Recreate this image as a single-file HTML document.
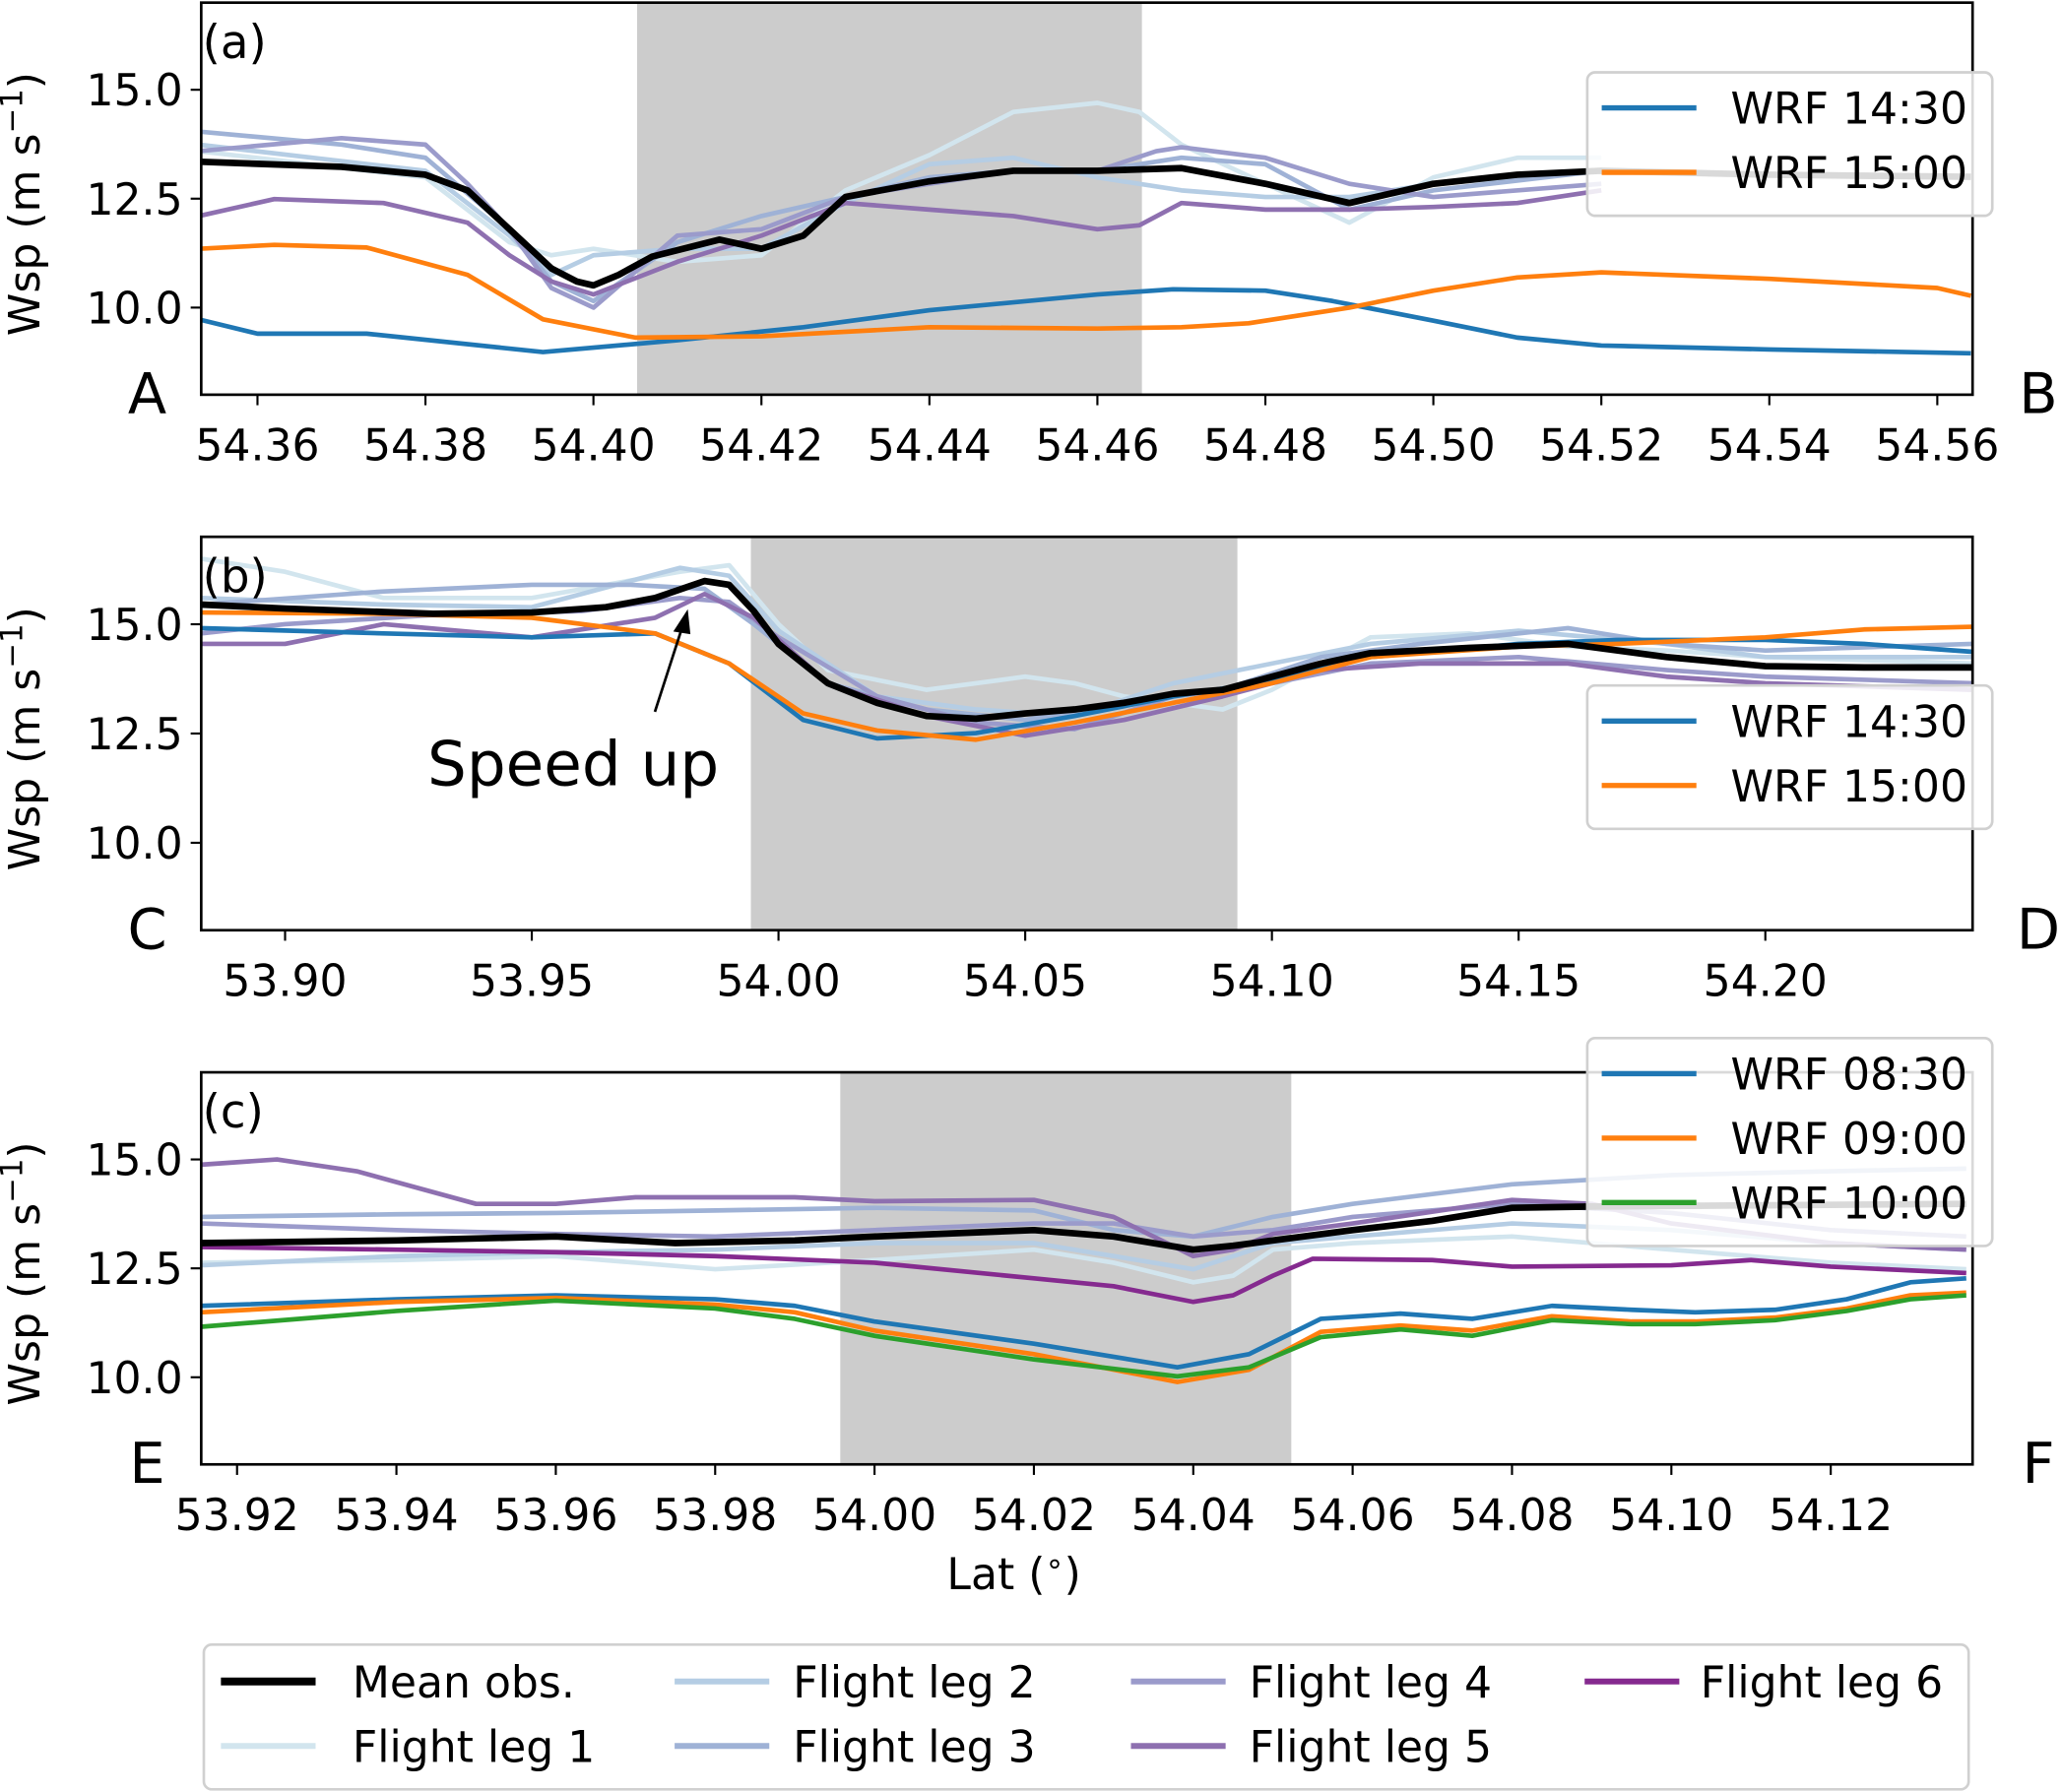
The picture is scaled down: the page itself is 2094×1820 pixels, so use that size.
<!DOCTYPE html>
<html><head><meta charset="utf-8"><title>Wind speed transects</title>
<style>html,body{margin:0;padding:0;background:#fff}svg{display:block;font-family:"DejaVu Sans","Liberation Sans",sans-serif}</style></head>
<body>
<svg id="fig" width="2094" height="1820" viewBox="0 0 1568 1362" preserveAspectRatio="none" xmlns="http://www.w3.org/2000/svg"></svg>
<script>
// ---------- DATA ----------
const yTicks = [10.0, 12.5, 15.0];
const yTickLabels = ["10.0", "12.5", "15.0"];
const aTicks = [54.36,54.38,54.40,54.42,54.44,54.46,54.48,54.50,54.52,54.54,54.56];
const bTicks = [53.90,53.95,54.00,54.05,54.10,54.15,54.20];
const cTicks = [53.92,53.94,53.96,53.98,54.00,54.02,54.04,54.06,54.08,54.10,54.12];
const aShade = [54.4052, 54.4653];
const bShade = [53.9944, 54.0930];
const cShade = [53.9957, 54.0523];

// Panel (a)
const aMeanLat = [54.353,54.37,54.38,54.385,54.39,54.395,54.398,54.40,54.403,54.407,54.415,54.42,54.425,54.43,54.44,54.45,54.46,54.47,54.48,54.49,54.50,54.51,54.52,54.54,54.564];
const aMeanWsp = [13.35,13.23,13.05,12.69,11.80,10.90,10.60,10.51,10.75,11.17,11.56,11.35,11.65,12.54,12.90,13.14,13.14,13.20,12.84,12.40,12.84,13.05,13.14,13.05,13.0];
const aW1Lat = [54.353,54.36,54.373,54.394,54.41,54.425,54.44,54.46,54.469,54.48,54.488,54.50,54.51,54.52,54.54,54.564];
const aW1Wsp = [9.73,9.40,9.40,8.98,9.25,9.55,9.94,10.30,10.42,10.39,10.15,9.70,9.31,9.13,9.04,8.95];
const aW2Lat = [54.353,54.362,54.373,54.385,54.394,54.405,54.42,54.44,54.46,54.47,54.478,54.49,54.50,54.51,54.52,54.54,54.56,54.564];
const aW2Wsp = [11.35,11.44,11.38,10.75,9.73,9.31,9.34,9.55,9.52,9.55,9.64,10.00,10.39,10.69,10.81,10.66,10.45,10.27];
const aL1Lat = [54.353,54.38,54.39,54.395,54.40,54.41,54.42,54.43,54.44,54.45,54.46,54.465,54.47,54.48,54.49,54.50,54.51,54.52];
const aL1Wsp = [13.59,12.99,11.50,11.20,11.35,11.05,11.20,12.69,13.50,14.49,14.70,14.49,13.74,12.84,11.95,12.99,13.44,13.44];
const aL2Lat = [54.353,54.38,54.39,54.395,54.40,54.41,54.42,54.43,54.44,54.45,54.46,54.47,54.48,54.49,54.50,54.52];
const aL2Wsp = [13.74,13.14,11.65,10.75,11.20,11.35,11.35,12.40,13.29,13.44,12.99,12.69,12.54,12.54,12.84,13.14];
const aL3Lat = [54.353,54.37,54.38,54.39,54.395,54.40,54.41,54.42,54.43,54.44,54.45,54.46,54.47,54.48,54.49,54.50,54.52];
const aL3Wsp = [14.04,13.74,13.44,11.80,10.60,10.15,11.50,12.10,12.54,12.99,13.14,13.14,13.44,13.29,12.25,12.69,13.14];
const aL4Lat = [54.353,54.37,54.38,54.385,54.39,54.395,54.40,54.41,54.42,54.43,54.44,54.45,54.46,54.467,54.47,54.48,54.49,54.50,54.52];
const aL4Wsp = [13.59,13.89,13.74,12.84,11.80,10.45,10.00,11.65,11.80,12.54,12.84,13.14,13.14,13.59,13.68,13.44,12.84,12.54,12.84];
const aL5Lat = [54.353,54.362,54.375,54.385,54.39,54.395,54.40,54.41,54.42,54.43,54.44,54.45,54.46,54.465,54.47,54.48,54.49,54.50,54.51,54.52];
const aL5Wsp = [12.10,12.49,12.40,11.95,11.20,10.60,10.30,11.05,11.65,12.40,12.25,12.10,11.80,11.89,12.40,12.25,12.25,12.31,12.40,12.69];

// Panel (b)
const bMeanLat = [53.883,53.90,53.93,53.95,53.965,53.975,53.985,53.99,53.995,54.00,54.01,54.02,54.03,54.04,54.05,54.06,54.07,54.08,54.09,54.10,54.11,54.12,54.14,54.16,54.18,54.20,54.22,54.242];
const bMeanWsp = [15.45,15.36,15.24,15.27,15.39,15.60,15.99,15.90,15.30,14.55,13.65,13.20,12.90,12.84,12.96,13.05,13.20,13.41,13.50,13.80,14.10,14.34,14.46,14.55,14.25,14.04,14.01,14.01];
const bW1Lat = [53.883,53.92,53.95,53.975,53.99,54.005,54.02,54.04,54.06,54.08,54.10,54.12,54.15,54.17,54.20,54.22,54.242];
const bW1Wsp = [14.91,14.79,14.70,14.79,14.10,12.81,12.39,12.51,12.90,13.35,13.71,14.25,14.55,14.64,14.64,14.55,14.37];
const bW2Lat = [53.883,53.92,53.95,53.975,53.99,54.005,54.02,54.04,54.06,54.08,54.10,54.12,54.15,54.17,54.20,54.22,54.242];
const bW2Wsp = [15.27,15.24,15.15,14.79,14.10,12.96,12.57,12.36,12.75,13.20,13.65,14.25,14.49,14.55,14.70,14.88,14.94];
const bL1Lat = [53.883,53.90,53.92,53.95,53.98,53.99,54.00,54.01,54.03,54.04,54.05,54.06,54.07,54.09,54.10,54.12,54.14,54.16,54.18,54.20,54.242];
const bL1Wsp = [16.50,16.20,15.60,15.60,16.20,16.35,15.00,13.95,13.50,13.65,13.80,13.65,13.35,13.05,13.50,14.70,14.79,14.49,14.40,14.25,14.10];
const bL2Lat = [53.883,53.92,53.95,53.98,53.99,54.00,54.02,54.04,54.06,54.08,54.10,54.12,54.15,54.18,54.20,54.242];
const bL2Wsp = [15.60,15.45,15.39,16.29,16.11,14.85,13.35,13.05,12.90,13.65,14.10,14.55,14.85,14.55,14.25,14.25];
const bL3Lat = [53.883,53.92,53.95,53.97,53.985,53.995,54.01,54.03,54.05,54.07,54.09,54.11,54.13,54.16,54.18,54.20,54.242];
const bL3Wsp = [15.45,15.75,15.90,15.90,15.81,15.00,13.65,13.05,12.81,13.20,13.50,14.25,14.55,14.91,14.55,14.40,14.55];
const bL4Lat = [53.883,53.90,53.93,53.96,53.98,53.99,54.00,54.02,54.04,54.06,54.08,54.10,54.12,54.15,54.18,54.20,54.242];
const bL4Wsp = [14.79,15.00,15.21,15.30,15.60,15.51,14.70,13.35,12.75,12.60,13.35,13.65,14.10,14.25,13.95,13.80,13.65];
const bL5Lat = [53.883,53.90,53.92,53.95,53.975,53.985,53.995,54.01,54.03,54.05,54.07,54.09,54.11,54.13,54.16,54.18,54.20,54.242];
const bL5Wsp = [14.55,14.55,15.00,14.70,15.15,15.69,15.15,13.65,12.90,12.45,12.81,13.35,13.95,14.10,14.10,13.80,13.65,13.50];

// Panel (c)
const cMeanLat = [53.9155,53.94,53.96,53.975,53.99,54.00,54.02,54.03,54.04,54.045,54.05,54.06,54.07,54.08,54.09,54.137];
const cMeanWsp = [13.08,13.14,13.23,13.08,13.14,13.23,13.38,13.23,12.93,13.02,13.14,13.38,13.59,13.89,13.92,13.98];
const cWLat = [53.9155,53.94,53.96,53.98,53.99,54.00,54.02,54.038,54.047,54.056,54.066,54.075,54.085,54.095,54.103,54.113,54.122,54.13,54.137];
const cW1Wsp = [11.64,11.79,11.88,11.79,11.64,11.28,10.77,10.23,10.53,11.34,11.46,11.34,11.64,11.55,11.49,11.55,11.79,12.18,12.27];
const cW2Wsp = [11.49,11.73,11.82,11.67,11.49,11.07,10.53,9.89,10.17,11.04,11.19,11.07,11.40,11.28,11.28,11.37,11.58,11.88,11.94];
const cW3Wsp = [11.16,11.52,11.76,11.58,11.34,10.95,10.41,10.02,10.23,10.92,11.10,10.95,11.31,11.22,11.22,11.31,11.52,11.79,11.88];
const cL1Lat = [53.9155,53.94,53.96,53.98,54.00,54.02,54.03,54.04,54.045,54.05,54.06,54.08,54.10,54.12,54.137];
const cL1Wsp = [12.63,12.69,12.78,12.48,12.69,12.93,12.63,12.18,12.33,12.93,13.08,13.23,12.93,12.63,12.48];
const cL2Lat = [53.9155,53.94,53.96,53.98,54.00,54.02,54.03,54.04,54.05,54.06,54.08,54.10,54.12,54.137];
const cL2Wsp = [12.57,12.78,12.87,12.93,13.08,13.08,12.78,12.48,13.08,13.23,13.53,13.38,13.08,12.93];
const cL3Lat = [53.9155,53.94,53.96,53.98,54.00,54.02,54.03,54.04,54.05,54.06,54.08,54.10,54.12,54.137];
const cL3Wsp = [13.68,13.74,13.77,13.83,13.89,13.83,13.38,13.23,13.68,13.98,14.43,14.64,14.73,14.79];
const cL4Lat = [53.9155,53.94,53.96,53.98,54.00,54.02,54.03,54.04,54.05,54.06,54.08,54.10,54.12,54.137];
const cL4Wsp = [13.53,13.38,13.29,13.23,13.38,13.53,13.53,13.23,13.38,13.68,13.98,13.77,13.38,13.23];
const cL5Lat = [53.9155,53.925,53.935,53.95,53.96,53.97,53.99,54.00,54.02,54.03,54.04,54.045,54.05,54.06,54.08,54.09,54.10,54.12,54.137];
const cL5Wsp = [14.88,15.00,14.73,13.98,13.98,14.13,14.13,14.04,14.07,13.68,12.78,12.93,13.29,13.53,14.07,13.98,13.53,13.08,12.93];
const cL6Lat = [53.9155,53.94,53.96,53.98,54.00,54.02,54.03,54.04,54.045,54.05,54.055,54.07,54.08,54.10,54.11,54.12,54.137];
const cL6Wsp = [12.99,12.93,12.87,12.78,12.63,12.27,12.09,11.73,11.88,12.33,12.72,12.69,12.54,12.57,12.69,12.54,12.39];

// ---------- DRAWING ----------
const NS = "http://www.w3.org/2000/svg";
const svg = document.getElementById("fig");
const C = {l1:"#d2e5ee", l2:"#b5cde4", l3:"#9fb2d6", l4:"#9b9bcb", l5:"#8e70b0", l6:"#852a8f", blue:"#1f77b4", orange:"#ff7f0e", green:"#2ca02c"};
function mk(tag, attrs, parent){ const e=document.createElementNS(NS,tag); for(const k in attrs) e.setAttribute(k,attrs[k]); (parent||svg).appendChild(e); return e; }
function txt(s, attrs, parent){ const e=mk("text",attrs,parent); e.textContent=s; return e; }

const X0=153, X1=1500, YMIN=8, YMAX=17;
const FS=33;
function panel(id, top, bot, xmin, xmax, ticks, decimals, shade, series, letter, lA, lB, legend){
  const g = mk("g",{});
  
  
  const xs = v => X0 + (v-xmin)/(xmax-xmin)*(X1-X0);
  const ys = v => bot - (v-YMIN)/(YMAX-YMIN)*(bot-top);
  const cp = mk("clipPath",{id:"clip"+id},g); mk("rect",{x:X0,y:top,width:X1-X0,height:bot-top},cp);
  const sh = mk("rect",{x:xs(shade[0]),y:top,width:xs(shade[1])-xs(shade[0]),height:bot-top,fill:"#cccccc"},g);
  
  
  for(const s of series){
    const d = s.lat.map((la,i)=>(i?"L":"M")+xs(la).toFixed(1)+" "+ys(s.wsp[i]).toFixed(1)).join(" ");
    const p = mk("path",{d:d,fill:"none",stroke:s.color,"stroke-width":s.w,"stroke-linejoin":"round","clip-path":"url(#clip"+id+")"},g);
    
    
  }
  const fr = mk("rect",{x:X0,y:top,width:X1-X0,height:bot-top,fill:"none",stroke:"#000","stroke-width":2},g);
  
  
  ticks.forEach(t=>{
    const x=xs(t);
    mk("line",{x1:x,y1:bot,x2:x,y2:bot+8,stroke:"#000","stroke-width":1.6},g);
    const lb = txt(t.toFixed(decimals),{x:x,y:bot+50,"font-size":FS,"text-anchor":"middle",fill:"#000"},g);
    
    
  });
  yTicks.forEach((t,i)=>{
    const y=ys(t);
    mk("line",{x1:X0-8,y1:y,x2:X0,y2:y,stroke:"#000","stroke-width":1.6},g);
    const lb = txt(yTickLabels[i],{x:X0-14,y:y+12,"font-size":FS,"text-anchor":"end",fill:"#000"},g);
    
    
  });
  const yl = txt("",{transform:"translate(30,"+((top+bot)/2+4)+") rotate(-90)","font-size":FS,"text-anchor":"middle",fill:"#000"},g);
  yl.innerHTML = 'Wsp (m s<tspan dy="-13" font-size="23">−1</tspan><tspan dy="13">)</tspan>';
  
  
  const pl = txt(letter,{x:X0+1,y:top+42,"font-size":35,fill:"#000"},g);
  
  
  const ea = txt(lA,{x:112,y:bot+14,"font-size":43,"text-anchor":"middle",fill:"#000"},g);
  
  
  const eb = txt(lB,{x:1550,y:bot+14,"font-size":43,"text-anchor":"middle",fill:"#000"},g);
  
  
  const lg = mk("g",{},g);
  
  
  const ly = legend.y;
  mk("rect",{x:1207,y:ly,width:308,height:legend.items.length*49+11,rx:6,fill:"#fff","fill-opacity":0.85,stroke:"#d0d0d0","stroke-width":2},lg);
  legend.items.forEach((it,i)=>{
    const yy = ly+27+i*49;
    const ent = mk("g",{},lg);
    
    
    mk("line",{x1:1218,y1:yy,x2:1290,y2:yy,stroke:it[1],"stroke-width":4},ent);
    txt(it[0],{x:1316,y:yy+12,"font-size":FS,fill:"#000"},ent);
  });
}
const thin=3.5, mean=5;
panel("a",2,300,54.3533,54.5642,aTicks,2,aShade,[
  {name:"flight-leg-1",lat:aL1Lat,wsp:aL1Wsp,color:C.l1,w:thin},
  {name:"flight-leg-2",lat:aL2Lat,wsp:aL2Wsp,color:C.l2,w:thin},
  {name:"flight-leg-3",lat:aL3Lat,wsp:aL3Wsp,color:C.l3,w:thin},
  {name:"flight-leg-4",lat:aL4Lat,wsp:aL4Wsp,color:C.l4,w:thin},
  {name:"flight-leg-5",lat:aL5Lat,wsp:aL5Wsp,color:C.l5,w:thin},
  {name:"wrf-1430",lat:aW1Lat,wsp:aW1Wsp,color:C.blue,w:thin},
  {name:"wrf-1500",lat:aW2Lat,wsp:aW2Wsp,color:C.orange,w:thin},
  {name:"mean-obs",lat:aMeanLat,wsp:aMeanWsp,color:"#000",w:mean}
],"(a)","A","B",{y:55,items:[["WRF 14:30",C.blue],["WRF 15:00",C.orange]]});
panel("b",408,707,53.883,54.242,bTicks,2,bShade,[
  {name:"flight-leg-1",lat:bL1Lat,wsp:bL1Wsp,color:C.l1,w:thin},
  {name:"flight-leg-2",lat:bL2Lat,wsp:bL2Wsp,color:C.l2,w:thin},
  {name:"flight-leg-3",lat:bL3Lat,wsp:bL3Wsp,color:C.l3,w:thin},
  {name:"flight-leg-4",lat:bL4Lat,wsp:bL4Wsp,color:C.l4,w:thin},
  {name:"flight-leg-5",lat:bL5Lat,wsp:bL5Wsp,color:C.l5,w:thin},
  {name:"wrf-1430",lat:bW1Lat,wsp:bW1Wsp,color:C.blue,w:thin},
  {name:"wrf-1500",lat:bW2Lat,wsp:bW2Wsp,color:C.orange,w:thin},
  {name:"mean-obs",lat:bMeanLat,wsp:bMeanWsp,color:"#000",w:mean}
],"(b)","C","D",{y:521,items:[["WRF 14:30",C.blue],["WRF 15:00",C.orange]]});
panel("c",815,1113,53.9155,54.1378,cTicks,2,cShade,[
  {name:"flight-leg-1",lat:cL1Lat,wsp:cL1Wsp,color:C.l1,w:thin},
  {name:"flight-leg-2",lat:cL2Lat,wsp:cL2Wsp,color:C.l2,w:thin},
  {name:"flight-leg-3",lat:cL3Lat,wsp:cL3Wsp,color:C.l3,w:thin},
  {name:"flight-leg-4",lat:cL4Lat,wsp:cL4Wsp,color:C.l4,w:thin},
  {name:"flight-leg-5",lat:cL5Lat,wsp:cL5Wsp,color:C.l5,w:thin},
  {name:"flight-leg-6",lat:cL6Lat,wsp:cL6Wsp,color:C.l6,w:thin},
  {name:"wrf-0830",lat:cWLat,wsp:cW1Wsp,color:C.blue,w:thin},
  {name:"wrf-0900",lat:cWLat,wsp:cW2Wsp,color:C.orange,w:thin},
  {name:"wrf-1000",lat:cWLat,wsp:cW3Wsp,color:C.green,w:thin},
  {name:"mean-obs",lat:cMeanLat,wsp:cMeanWsp,color:"#000",w:mean}
],"(c)","E","F",{y:789,items:[["WRF 08:30",C.blue],["WRF 09:00",C.orange],["WRF 10:00",C.green]]});

const ann = mk("g",{});


txt("Speed up",{x:325,y:597,"font-size":47,fill:"#000"},ann);
mk("line",{x1:498,y1:541,x2:519,y2:476,stroke:"#000","stroke-width":2},ann);
mk("path",{d:"M523 463 L512 480 L525 482 Z",fill:"#000"},ann);

const xt = txt("",{x:771,y:1208,"font-size":FS,"text-anchor":"middle",fill:"#000"});
xt.innerHTML = 'Lat (<tspan dy="-12" font-size="23">∘</tspan><tspan dy="12">)</tspan>';



const bl = mk("g",{});


mk("rect",{x:155,y:1250,width:1342,height:110,rx:6,fill:"#fff",stroke:"#d0d0d0","stroke-width":2},bl);
const legNames = ["Mean obs.","Flight leg 1","Flight leg 2","Flight leg 3","Flight leg 4","Flight leg 5","Flight leg 6"];
const legColors = ["#000",C.l1,C.l2,C.l3,C.l4,C.l5,C.l6];
const colX = [168,513,860,1205];
const colTX = [268,603,950,1293];
legNames.forEach((n,i)=>{
  const col = Math.floor(i/2), row = i%2;
  const lx = colX[col], yy = 1278 + row*49;
  const e = mk("g",{},bl);
  
  
  mk("line",{x1:lx,y1:yy,x2:lx+72,y2:yy,stroke:legColors[i],"stroke-width":i===0?6:4.5},e);
  txt(n,{x:colTX[col],y:yy+12,"font-size":FS,fill:"#000"},e);
});
</script>
</body></html>
